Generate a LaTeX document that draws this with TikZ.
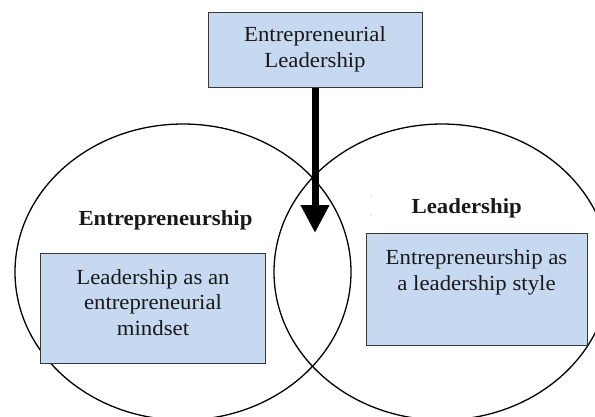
\documentclass[tikz,border=0pt]{standalone}
\usepackage{fontspec}
\setmainfont{Liberation Serif}[FakeStretch=1.06]
\usetikzlibrary{shapes.geometric,arrows.meta}
\definecolor{boxfill}{RGB}{198,217,241}
\definecolor{boxline}{RGB}{55,55,55}
\definecolor{txt}{RGB}{25,25,25}
\tikzset{
  venn/.style={draw=black, line width=1.3bp, ellipse, inner sep=0pt,
    minimum width=336bp, minimum height=296bp},
  bluebox/.style={draw=boxline, fill=boxfill, line width=1bp, rectangle, inner sep=0pt},
  lbl/.style={font=\fontsize{21.5bp}{25.5bp}\selectfont, text=txt, align=center, inner sep=0pt},
  bold/.style={lbl, font=\fontsize{21.5bp}{25.5bp}\selectfont\bfseries},
  bigarrow/.style={line width=7bp, -{Triangle[length=28bp,width=27bp]}}
}
\begin{document}
\begin{tikzpicture}[x=1bp,y=-1bp]
\useasboundingbox (0,0) rectangle (595,416);
\begin{scope}
\clip (0,0) rectangle (595,416);
\node[venn] (entc) at (183,272) {};
\node[venn] (leadc) at (442,272) {};
\end{scope}
\node[bold, anchor=base] (entl) at (165.5,225) {Entrepreneurship};
\node[bold, anchor=base] (leadl) at (466.7,213) {Leadership};
\fill[gray!60] (371,196) circle (0.6) (371,215) circle (0.6);
\node[bluebox, minimum width=224bp, minimum height=110bp] (lbox) at (153,308) {};
\node[lbl, anchor=base] (ltext) at (153,335) {Leadership as an\\entrepreneurial\\mindset};
\node[bluebox, minimum width=221bp, minimum height=112bp] (rbox) at (476.5,289) {};
\node[lbl, anchor=base] (rtext) at (476.5,290) {Entrepreneurship as\\a leadership style};
\coordinate (tip) at (315,233);
\node[bluebox, minimum width=214bp, minimum height=75bp] (top) at (315.5,49.5) {};
\node[lbl, anchor=base] (ttext) at (315,67) {Entrepreneurial\\Leadership};
\draw[bigarrow] (top.south -| tip) -- (tip);
\end{tikzpicture}
\end{document}
